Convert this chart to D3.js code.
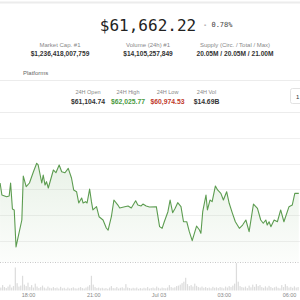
<!DOCTYPE html>
<html>
<head>
<meta charset="utf-8">
<script src="https://cdn.jsdelivr.net/npm/d3@7"></script>
<style>
  body { margin: 0; background: #fff; }
  svg { display: block; font-family: 'Liberation Sans', Arial, sans-serif; }
</style>
</head>
<body>
<svg id="chart" width="300" height="300"></svg>
<script>
// header numbers
const price = '$61,662.22'
const change = '- 0.78%'
const statLabels = ['Market Cap. #1', 'Volume (24h) #1', 'Supply (Circ. / Total / Max)']
const statValues = ['$1,236,418,007,759', '$14,105,257,849', '20.05M / 20.05M / 21.00M']
const dayLabels = ['24H Open', '24H High', '24H Low', '24H Vol']
const dayValues = ['$61,104.74', '$62,025.77', '$60,974.53', '$14.69B']
const dayColors = ['#333', '#4a9a3f', '#c0392b', '#333']

// price series
const times = [
  '07-02 16:43', '07-02 16:48', '07-02 17:01', '07-02 17:08', '07-02 17:12', '07-02 17:17', '07-02 17:22', '07-02 17:27',
  '07-02 17:33', '07-02 17:43', '07-02 17:47', '07-02 17:55', '07-02 18:04', '07-02 18:15', '07-02 18:24', '07-02 18:28',
  '07-02 18:38', '07-02 18:42', '07-02 18:47', '07-02 18:51', '07-02 18:56', '07-02 19:10', '07-02 19:17', '07-02 19:26',
  '07-02 19:33', '07-02 19:42', '07-02 19:51', '07-02 20:00', '07-02 20:06', '07-02 20:14', '07-02 20:20', '07-02 20:28',
  '07-02 20:32', '07-02 20:39', '07-02 20:43', '07-02 20:50', '07-02 20:55', '07-02 20:59', '07-02 21:09', '07-02 21:16',
  '07-02 21:27', '07-02 21:36', '07-02 21:41', '07-02 21:50', '07-02 21:57', '07-02 22:08', '07-02 22:13', '07-02 22:27',
  '07-02 22:36', '07-02 22:45', '07-02 22:57', '07-02 23:03', '07-02 23:12', '07-02 23:17', '07-02 23:26', '07-02 23:35',
  '07-02 23:54', '07-03 00:03', '07-03 00:10', '07-03 00:16', '07-03 00:26', '07-03 00:32', '07-03 00:39', '07-03 00:46',
  '07-03 00:53', '07-03 01:02', '07-03 01:09', '07-03 01:18', '07-03 01:25', '07-03 01:33', '07-03 01:39', '07-03 01:45',
  '07-03 01:53', '07-03 01:57', '07-03 02:02', '07-03 02:11', '07-03 02:15', '07-03 02:22', '07-03 02:28', '07-03 02:37',
  '07-03 02:43', '07-03 02:52', '07-03 02:59', '07-03 03:08', '07-03 03:15', '07-03 03:24', '07-03 03:32', '07-03 03:43',
  '07-03 03:52', '07-03 04:01', '07-03 04:10', '07-03 04:22', '07-03 04:33', '07-03 04:42', '07-03 04:49', '07-03 04:56',
  '07-03 05:00', '07-03 05:05', '07-03 05:10', '07-03 05:19', '07-03 05:28', '07-03 05:37', '07-03 05:46', '07-03 06:00',
  '07-03 06:09', '07-03 06:16', '07-03 06:27'
]
const prices = [
  61811, 61694, 61677, 61684, 61811, 61557, 61548, 61187,
  61287, 61450, 61879, 61775, 61811, 61921, 62003, 61987,
  61811, 61889, 61791, 61824, 61762, 61938, 61911, 61987,
  61921, 61911, 61954, 61860, 61743, 61726, 61616, 61665,
  61616, 61629, 61616, 61752, 61629, 61548, 61580, 61482,
  61450, 61372, 61352, 61482, 61645, 61596, 61567, 61580,
  61587, 61567, 61638, 61596, 61587, 61606, 61587, 61577,
  61580, 61385, 61369, 61433, 61531, 61645, 61521, 61564,
  61619, 61580, 61433, 61433, 61336, 61248, 61320, 61391,
  61352, 61320, 61531, 61694, 61548, 61645, 61629, 61782,
  61743, 61710, 61645, 61726, 61613, 61515, 61433, 61369,
  61401, 61450, 61336, 61606, 61564, 61450, 61418, 61450,
  61401, 61433, 61385, 61450, 61433, 61548, 61433, 61580,
  61596, 61710, 61710
]
const gridPrices = [61250, 61500, 61750, 62000, 62250]

// 5-minute volume bars starting 16:40
const volStart = '07-02 16:40'
const volumes = [
  90, 60, 110, 70, 50, 80, 120, 60, 90, 470,
  150, 80, 100, 300, 120, 90, 160, 70, 110, 60,
  140, 80, 50, 70, 100, 60, 40, 80, 55, 45,
  70, 50, 60, 40, 75, 45, 55, 35, 60, 40,
  50, 65, 45, 40, 55, 70, 50, 40, 60, 80,
  110, 300, 120, 70, 50, 60, 45, 55, 40, 50,
  35, 60, 90, 50, 45, 70, 40, 55, 65, 45,
  130, 60, 50, 40, 55, 45, 60, 35, 50, 40,
  55, 45, 70, 40, 50, 60, 45, 80, 55, 40,
  60, 50, 45, 60, 110, 70, 55, 65, 90, 100,
  120, 150, 180, 260, 130, 90, 110, 80, 140, 95,
  70, 60, 80, 55, 70, 50, 60, 45, 75, 55,
  65, 50, 70, 60, 45, 80, 60, 90, 70, 100,
  140, 560, 180, 90, 70, 60, 80, 50, 100, 65,
  120, 75, 130, 90, 110, 70, 55, 85, 60, 95,
  70, 50, 65, 80, 55, 45, 110, 70, 130, 90,
  60, 75, 55, 85, 60, 70
]
const tickTimes = ['07-02 18:00', '07-02 21:00', '07-03 00:00', '07-03 03:00', '07-03 06:00']

const d3p = d3.timeParse('%Y-%m-%d %H:%M')
const parse = (s) => d3p('2024-' + s)

function draw() {
  const svg = d3.select('#chart')
  const sans = "'Liberation Sans', Arial, sans-serif"
  const mono = "'DejaVu Sans Mono', monospace"

  // header ------------------------------
  svg.append('line').attr('x1', 0).attr('x2', 300).attr('y1', 2.5).attr('y2', 2.5)
    .attr('stroke', '#ececec').attr('stroke-width', 2)

  svg.append('text').text(price)
    .attr('x', 148).attr('y', 31).attr('text-anchor', 'middle')
    .style('font-family', mono).style('font-size', '16px').attr('fill', '#222')
  svg.append('text').text(change)
    .attr('x', 203).attr('y', 27)
    .style('font-family', mono).style('font-size', '7px').attr('fill', '#444')

  const statX = [60, 148, 235]
  svg.selectAll('.slab').data(statLabels).join('text')
    .attr('x', (d, i) => statX[i]).attr('y', 46.5).attr('text-anchor', 'middle')
    .style('font-size', '6px').attr('fill', '#888').text((d) => d)
  svg.selectAll('.sval').data(statValues).join('text')
    .attr('x', (d, i) => statX[i]).attr('y', 55.5).attr('text-anchor', 'middle')
    .style('font-size', '6.6px').style('font-weight', 'bold').attr('fill', '#333').text((d) => d)

  svg.append('text').text('Platforms')
    .attr('x', 23).attr('y', 74.5).style('font-size', '6px').attr('fill', '#666')
  svg.append('line').attr('x1', 0).attr('x2', 300).attr('y1', 80.5).attr('y2', 80.5).attr('stroke', '#ececec')

  const dayX = [88, 128, 167.5, 206.5]
  svg.selectAll('.dlab').data(dayLabels).join('text')
    .attr('x', (d, i) => dayX[i]).attr('y', 94).attr('text-anchor', 'middle')
    .style('font-size', '5.5px').attr('fill', '#888').text((d) => d)
  svg.selectAll('.dval').data(dayValues).join('text')
    .attr('x', (d, i) => dayX[i]).attr('y', 104).attr('text-anchor', 'middle')
    .style('font-size', '6.8px').style('font-weight', 'bold').attr('fill', (d, i) => dayColors[i]).text((d) => d)

  svg.append('rect').attr('x', 290.5).attr('y', 88.5).attr('width', 14).attr('height', 15)
    .attr('rx', 2).attr('fill', '#fff').attr('stroke', '#e2e2e2')
  svg.append('text').text('1').attr('x', 296).attr('y', 98.5)
    .style('font-size', '6px').attr('fill', '#333')
  svg.append('line').attr('x1', 0).attr('x2', 300).attr('y1', 112.5).attr('y2', 112.5).attr('stroke', '#ececec')

  // chart ------------------------------
  const data = times.map((t, i) => ({ t: parse(t), p: prices[i] }))
  const x = d3.scaleTime().domain([parse(tickTimes[0]), parse(tickTimes[4])]).range([28, 289])
  const y = d3.scaleLinear().domain([61250, 62250]).range([240.5, 138])

  svg.selectAll('.grid').data(gridPrices).join('line')
    .attr('x1', 0).attr('x2', 300)
    .attr('y1', (d) => Math.round(y(d)) + 0.5).attr('y2', (d) => Math.round(y(d)) + 0.5)
    .attr('stroke', '#f0f0f0')

  const defs = svg.append('defs')
  const grad = defs.append('linearGradient').attr('id', 'fillg')
    .attr('gradientUnits', 'userSpaceOnUse').attr('x1', 0).attr('x2', 0).attr('y1', 160).attr('y2', 262)
  grad.append('stop').attr('offset', 0).attr('stop-color', '#5f9f54').attr('stop-opacity', 0.14)
  grad.append('stop').attr('offset', 1).attr('stop-color', '#5f9f54').attr('stop-opacity', 0.02)

  const area = d3.area().x((d) => x(d.t)).y0(262).y1((d) => y(d.p))
  const line = d3.line().x((d) => x(d.t)).y((d) => y(d.p))

  svg.append('path').datum(data).attr('d', area).attr('fill', 'url(#fillg)')
  svg.append('path').datum(data).attr('d', line)
    .attr('fill', 'none').attr('stroke', '#5c9c50').attr('stroke-width', 1.1)
    .attr('stroke-linejoin', 'round')

  svg.append('line').attr('x1', 0).attr('x2', 300).attr('y1', 262.5).attr('y2', 262.5)
    .attr('stroke', '#c8c8c8').attr('stroke-dasharray', '1,1.5')

  // volume
  const v0 = parse(volStart)
  const yv = d3.scaleLinear().domain([0, 500]).range([290.5, 266])
  svg.selectAll('.vol').data(volumes).join('rect')
    .attr('x', (d, i) => x(d3.timeMinute.offset(v0, i * 5)) - 0.6)
    .attr('width', 1.2)
    .attr('y', (d) => yv(d))
    .attr('height', (d) => 290.5 - yv(d))
    .attr('fill', '#dcdcdc')

  // x axis
  const fmt = (d) => (d.getHours() === 0 ? d3.timeFormat('%b %d')(d) : d3.timeFormat('%H:%M')(d))
  const ax = svg.append('g').attr('transform', 'translate(0,289)')
    .call(d3.axisBottom(x).tickValues(tickTimes.map(parse)).tickFormat(fmt).tickSize(0).tickPadding(4))
  ax.select('.domain').remove()
  ax.selectAll('text').style('font-size', '5.5px').style('font-family', sans).attr('fill', '#888')
}

draw()
</script>
</body>
</html>
